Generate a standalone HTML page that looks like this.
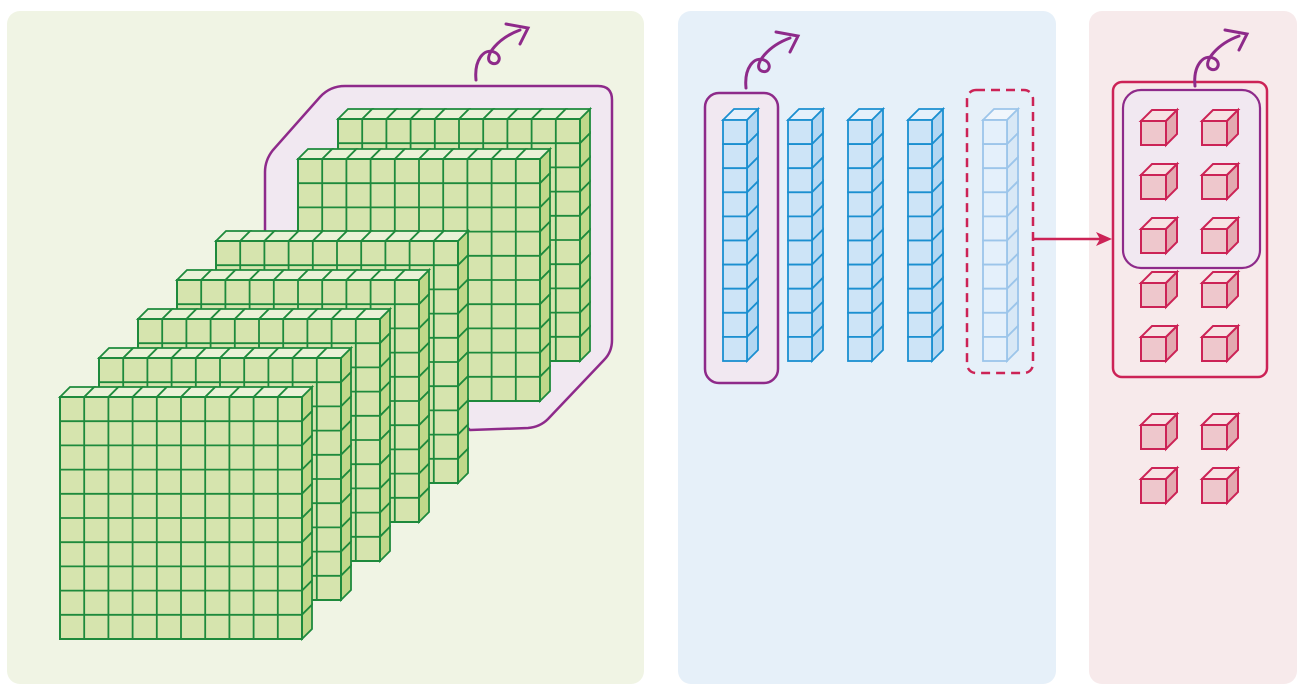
<!DOCTYPE html>
<html><head><meta charset="utf-8"><style>
html,body{margin:0;padding:0;background:#fff;}
svg{display:block;}
</style></head><body>
<svg id="s" width="1304" height="694" viewBox="0 0 1304 694" xmlns="http://www.w3.org/2000/svg">
<rect x="7" y="11" width="637" height="673" rx="13" fill="#f0f4e4"/>
<rect x="678" y="11" width="378" height="673" rx="13" fill="#e6f0f9"/>
<rect x="1089" y="11" width="208" height="673" rx="13" fill="#f7eaeb"/>
<path d="M470,430 L528,428 Q540,427 548,419 L604,360 Q612,352 612,340 L612,100 Q612,86 598,86 L345,86 Q330,86 320,97 L273,150 Q265,160 265,172 L265,240 L470,430 Z" fill="#f1e8f1" stroke="#8e2a8a" stroke-width="2.5"/>
<g id="green"></g>
<rect x="705" y="93" width="73" height="290" rx="14" fill="#f1e8f1" stroke="#8e2a8a" stroke-width="2.5"/>
<g id="blue"></g>
<rect x="967" y="90" width="66" height="283" rx="9" fill="none" stroke="#cc2356" stroke-width="2.5" stroke-dasharray="9,6"/>
<line x1="1033" y1="239" x2="1104" y2="239" stroke="#cc2356" stroke-width="2.5"/>
<path d="M1112,239 L1096,232 L1100,239 L1096,246 Z" fill="#cc2356"/>
<rect x="1113" y="82" width="154" height="295" rx="9" fill="none" stroke="#cc2356" stroke-width="2.5"/>
<rect x="1123" y="90" width="137" height="178" rx="18" fill="#f1e8f1" stroke="#8e2a8a" stroke-width="2.2"/>
<g id="pink"></g>
<g fill="none" stroke="#8e2a8a" stroke-width="3" stroke-linecap="round">
<path d="M476,80 C474,60 484,48 494,52 C504,56 498,68 490,62 C484,56 498,38 520,30 M506,24 L528,28 L520,44"/>
<path d="M746,88 C744,68 754,56 764,60 C774,64 768,76 760,70 C754,64 768,46 790,38 M776,32 L798,36 L790,52"/>
<path d="M1195,86 C1193,66 1203,54 1213,58 C1223,62 1217,74 1209,68 C1203,62 1217,44 1239,36 M1225,30 L1247,34 L1239,50"/>
</g>
</svg>
<script>
const NS="http://www.w3.org/2000/svg";
function el(p,t,a){const e=document.createElementNS(NS,t);for(const k in a)e.setAttribute(k,a[k]);p.appendChild(e);return e;}
function cube(g,x,y,w,h,d,c){
  el(g,'rect',{x:x,y:y,width:w,height:h,fill:c.face,stroke:c.s,'stroke-width':c.sw});
}
// green planes (back to front): front-face top-left corners
const planes=[[338,119],[298,159],[216,241],[177,280],[138,319],[99,358],[60,397]];
const G=document.getElementById('green');
const gc={s:'#1e8a3c',face:'#d6e4ae',top:'#eaf2d7',side:'#c0d88a'};
const cs=24.2,d=10,n=10;
planes.forEach((p,pi)=>{
  const g=el(G,'g',{});
  
  
  const x=p[0],y=p[1],W=cs*n;
  for(let i=0;i<n;i++){
    el(g,'path',{d:`M${x+i*cs},${y} l${d},${-d} h${cs} l${-d},${d} Z`,fill:gc.top,stroke:gc.s,'stroke-width':1.8});
    el(g,'path',{d:`M${x+W},${y+i*cs} l${d},${-d} v${cs} l${-d},${d} Z`,fill:gc.side,stroke:gc.s,'stroke-width':1.8});
  }
  el(g,'rect',{x:x,y:y,width:W,height:W,fill:gc.face,stroke:gc.s,'stroke-width':2});
  for(let i=1;i<n;i++){
    el(g,'line',{x1:x+i*cs,y1:y,x2:x+i*cs,y2:y+W,stroke:gc.s,'stroke-width':1.8});
    el(g,'line',{x1:x,y1:y+i*cs,x2:x+W,y2:y+i*cs,stroke:gc.s,'stroke-width':1.8});
  }
});
// blue columns
const cols=[723,788,848,908,983];
const B=document.getElementById('blue');
cols.forEach((x,ci)=>{
  const faint=ci===4;
  const c=faint?{s:'#9cc5ea',face:'#e4f0fb',top:'#f0f6fc',side:'#d8e8f6'}:{s:'#1b8fd0',face:'#cde4f7',top:'#e4f0fb',side:'#b3d7f2'};
  const g=el(B,'g',{});
  
  
  const y=120,w=24,h=24.1,dd=11;
  el(g,'path',{d:`M${x},${y} l${dd},${-dd} h${w} l${-dd},${dd} Z`,fill:c.top,stroke:c.s,'stroke-width':1.8});
  for(let i=0;i<10;i++){
    el(g,'path',{d:`M${x+w},${y+i*h} l${dd},${-dd} v${h} l${-dd},${dd} Z`,fill:c.side,stroke:c.s,'stroke-width':1.8});
    el(g,'rect',{x:x,y:y+i*h,width:w,height:h,fill:c.face,stroke:c.s,'stroke-width':1.8});
  }
});
// pink cubes
const pxs=[1141,1202];
const pys=[121,175,229,283,337,425,479];
const P=document.getElementById('pink');
const pc={s:'#cc2356',face:'#eec7cc',top:'#f7e3e4',side:'#e3a9b0'};
pys.forEach((y,ri)=>pxs.forEach((x,ci)=>{
  const g=el(P,'g',{});
  
  
  const w=25,h=24,dd=11;
  el(g,'path',{d:`M${x},${y} l${dd},${-dd} h${w} l${-dd},${dd} Z`,fill:pc.top,stroke:pc.s,'stroke-width':2});
  el(g,'path',{d:`M${x+w},${y} l${dd},${-dd} v${h} l${-dd},${dd} Z`,fill:pc.side,stroke:pc.s,'stroke-width':2});
  el(g,'rect',{x:x,y:y,width:w,height:h,fill:pc.face,stroke:pc.s,'stroke-width':2});
}));
</script>
</body></html>
